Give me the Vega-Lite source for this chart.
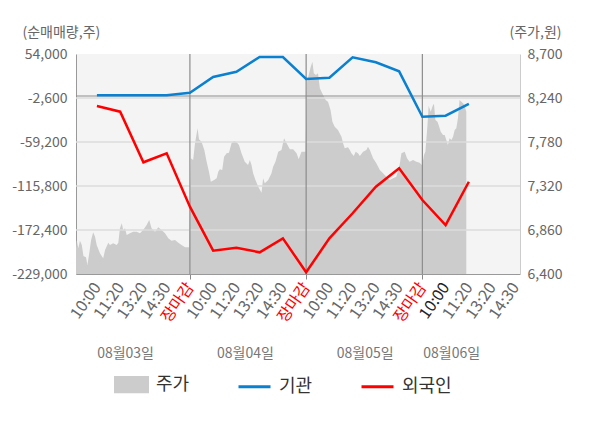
{
  "$schema": "https://vega.github.io/schema/vega-lite/v6.json",
  "width": 444,
  "height": 220,
  "autosize": {"type": "none"},
  "padding": {"left": 76, "top": 54, "right": 80, "bottom": 154},
  "background": "white",
  "config": {
    "font": "Noto Sans CJK KR",
    "view": {"fill": "#f4f4f4", "stroke": null}
  },
  "datasets": {
    "price": [
      {"t": 0.1, "p": 6670}, {"t": 0.13, "p": 6755}, {"t": 0.2, "p": 6670}, {"t": 0.27, "p": 6748},
      {"t": 0.35, "p": 6703}, {"t": 0.42, "p": 6588}, {"t": 0.53, "p": 6575}, {"t": 0.59, "p": 6494},
      {"t": 0.67, "p": 6616}, {"t": 0.75, "p": 6755}, {"t": 0.84, "p": 6836}, {"t": 0.92, "p": 6790},
      {"t": 0.99, "p": 6703}, {"t": 1.13, "p": 6616}, {"t": 1.27, "p": 6564}, {"t": 1.35, "p": 6651},
      {"t": 1.49, "p": 6727}, {"t": 1.56, "p": 6703}, {"t": 1.7, "p": 6721}, {"t": 1.85, "p": 6703},
      {"t": 1.92, "p": 6727}, {"t": 1.99, "p": 6878}, {"t": 2.07, "p": 6930}, {"t": 2.13, "p": 6860},
      {"t": 2.21, "p": 6878}, {"t": 2.28, "p": 6808}, {"t": 2.42, "p": 6825}, {"t": 2.56, "p": 6842},
      {"t": 2.71, "p": 6842}, {"t": 2.85, "p": 6825}, {"t": 2.99, "p": 6860}, {"t": 3.14, "p": 6912},
      {"t": 3.25, "p": 6965}, {"t": 3.35, "p": 6878}, {"t": 3.5, "p": 6842}, {"t": 3.64, "p": 6888},
      {"t": 3.78, "p": 6860}, {"t": 3.93, "p": 6825}, {"t": 4.07, "p": 6773}, {"t": 4.21, "p": 6748},
      {"t": 4.36, "p": 6755}, {"t": 4.5, "p": 6727}, {"t": 4.64, "p": 6703}, {"t": 4.79, "p": 6679},
      {"t": 4.97, "p": 6679},
      {"t": 5.04, "p": 7610}, {"t": 5.14, "p": 7592}, {"t": 5.22, "p": 7766}, {"t": 5.33, "p": 7923},
      {"t": 5.39, "p": 7808}, {"t": 5.5, "p": 7783}, {"t": 5.62, "p": 7696}, {"t": 5.72, "p": 7574},
      {"t": 5.82, "p": 7470}, {"t": 5.9, "p": 7365}, {"t": 6.04, "p": 7383}, {"t": 6.15, "p": 7400},
      {"t": 6.22, "p": 7470}, {"t": 6.29, "p": 7495}, {"t": 6.39, "p": 7487}, {"t": 6.47, "p": 7626},
      {"t": 6.58, "p": 7662}, {"t": 6.68, "p": 7668}, {"t": 6.79, "p": 7766}, {"t": 6.9, "p": 7790},
      {"t": 7.01, "p": 7777}, {"t": 7.11, "p": 7749}, {"t": 7.22, "p": 7662}, {"t": 7.36, "p": 7574},
      {"t": 7.5, "p": 7540}, {"t": 7.58, "p": 7592}, {"t": 7.65, "p": 7540}, {"t": 7.72, "p": 7453},
      {"t": 7.82, "p": 7383}, {"t": 7.94, "p": 7313}, {"t": 8.08, "p": 7250}, {"t": 8.15, "p": 7400},
      {"t": 8.22, "p": 7348}, {"t": 8.37, "p": 7383}, {"t": 8.51, "p": 7453}, {"t": 8.58, "p": 7522},
      {"t": 8.68, "p": 7574}, {"t": 8.8, "p": 7679}, {"t": 8.94, "p": 7696}, {"t": 9.05, "p": 7819},
      {"t": 9.16, "p": 7766}, {"t": 9.3, "p": 7704}, {"t": 9.44, "p": 7704}, {"t": 9.59, "p": 7662},
      {"t": 9.68, "p": 7599}, {"t": 9.8, "p": 7679}, {"t": 9.97, "p": 7679},
      {"t": 10.04, "p": 8410}, {"t": 10.13, "p": 8498}, {"t": 10.2, "p": 8567}, {"t": 10.27, "p": 8620},
      {"t": 10.33, "p": 8498}, {"t": 10.42, "p": 8480}, {"t": 10.51, "p": 8498}, {"t": 10.59, "p": 8341},
      {"t": 10.66, "p": 8306}, {"t": 10.73, "p": 8271}, {"t": 10.84, "p": 8219}, {"t": 10.94, "p": 8201},
      {"t": 11.05, "p": 8115}, {"t": 11.13, "p": 7992}, {"t": 11.23, "p": 7940}, {"t": 11.37, "p": 7905},
      {"t": 11.52, "p": 7835}, {"t": 11.59, "p": 7766}, {"t": 11.66, "p": 7714}, {"t": 11.8, "p": 7725},
      {"t": 11.88, "p": 7696}, {"t": 11.95, "p": 7662}, {"t": 12.05, "p": 7634}, {"t": 12.13, "p": 7679},
      {"t": 12.23, "p": 7662}, {"t": 12.31, "p": 7634}, {"t": 12.45, "p": 7679}, {"t": 12.59, "p": 7696},
      {"t": 12.66, "p": 7731}, {"t": 12.74, "p": 7696}, {"t": 12.88, "p": 7610}, {"t": 13.02, "p": 7557},
      {"t": 13.17, "p": 7487}, {"t": 13.31, "p": 7453}, {"t": 13.45, "p": 7417}, {"t": 13.6, "p": 7383},
      {"t": 13.74, "p": 7400}, {"t": 13.88, "p": 7417}, {"t": 14.02, "p": 7540}, {"t": 14.1, "p": 7662},
      {"t": 14.24, "p": 7679}, {"t": 14.34, "p": 7610}, {"t": 14.45, "p": 7574}, {"t": 14.6, "p": 7592},
      {"t": 14.74, "p": 7574}, {"t": 14.88, "p": 7564}, {"t": 14.98, "p": 7540},
      {"t": 15.01, "p": 7557}, {"t": 15.07, "p": 7644}, {"t": 15.13, "p": 7679}, {"t": 15.22, "p": 7958},
      {"t": 15.27, "p": 8156}, {"t": 15.36, "p": 8097}, {"t": 15.41, "p": 8132}, {"t": 15.46, "p": 8167},
      {"t": 15.5, "p": 8177}, {"t": 15.56, "p": 8010}, {"t": 15.65, "p": 7992}, {"t": 15.7, "p": 7958},
      {"t": 15.79, "p": 7888}, {"t": 15.89, "p": 7853}, {"t": 15.96, "p": 7853}, {"t": 16.03, "p": 7801},
      {"t": 16.1, "p": 7749}, {"t": 16.17, "p": 7819}, {"t": 16.25, "p": 7801}, {"t": 16.32, "p": 7835},
      {"t": 16.39, "p": 7905}, {"t": 16.46, "p": 7923}, {"t": 16.53, "p": 8028}, {"t": 16.6, "p": 8219},
      {"t": 16.68, "p": 8201}, {"t": 16.75, "p": 8185}, {"t": 16.81, "p": 8167}, {"t": 16.89, "p": 8097}
    ],
    "flow": [
      {"t": 1, "series": "기관", "v": 1000}, {"t": 2, "series": "기관", "v": 1000},
      {"t": 3, "series": "기관", "v": 1000}, {"t": 4, "series": "기관", "v": 1000},
      {"t": 5, "series": "기관", "v": 4200}, {"t": 6, "series": "기관", "v": 24400},
      {"t": 7, "series": "기관", "v": 31200}, {"t": 8, "series": "기관", "v": 50100},
      {"t": 9, "series": "기관", "v": 50100}, {"t": 10, "series": "기관", "v": 21800},
      {"t": 11, "series": "기관", "v": 23500}, {"t": 12, "series": "기관", "v": 49800},
      {"t": 13, "series": "기관", "v": 43300}, {"t": 14, "series": "기관", "v": 31700},
      {"t": 15, "series": "기관", "v": -26700}, {"t": 16, "series": "기관", "v": -25400},
      {"t": 17, "series": "기관", "v": -10300},
      {"t": 1, "series": "외국인", "v": -12900}, {"t": 2, "series": "외국인", "v": -20200},
      {"t": 3, "series": "외국인", "v": -85300}, {"t": 4, "series": "외국인", "v": -73700},
      {"t": 5, "series": "외국인", "v": -142400}, {"t": 6, "series": "외국인", "v": -199000},
      {"t": 7, "series": "외국인", "v": -195200}, {"t": 8, "series": "외국인", "v": -201100},
      {"t": 9, "series": "외국인", "v": -183100}, {"t": 10, "series": "외국인", "v": -226800},
      {"t": 11, "series": "외국인", "v": -183100}, {"t": 12, "series": "외국인", "v": -150900},
      {"t": 13, "series": "외국인", "v": -116700}, {"t": 14, "series": "외국인", "v": -93000},
      {"t": 15, "series": "외국인", "v": -133800}, {"t": 16, "series": "외국인", "v": -166000},
      {"t": 17, "series": "외국인", "v": -110300}
    ]
  },
  "layer": [
    {
      "data": {"name": "price"},
      "mark": {"type": "area", "opacity": 1},
      "encoding": {
        "x": {
          "field": "t", "type": "quantitative",
          "scale": {"domain": [0.1, 19.2], "nice": false, "zero": false},
          "axis": {
            "orient": "bottom",
            "values": [1, 2, 3, 4, 5, 6, 7, 8, 9, 10, 11, 12, 13, 14, 15, 16, 17, 18, 19],
            "labelExpr": "['장마감','10:00','11:20','13:20','14:30'][datum.value % 5]",
            "labelAngle": -55,
            "labelFontSize": 16,
            "labelColor": {"condition": [{"test": "datum.value % 5 === 0", "value": "#ff0000"}, {"test": "datum.value === 16", "value": "#222222"}], "value": "#666666"},
            "labelPadding": 5,
            "labelOverlap": false,
            "labelFlush": false,
            "grid": false,
            "tickColor": "#888888",
            "tickSize": 5,
            "tickOpacity": {"condition": {"test": "datum.value % 5 === 0", "value": 1}, "value": 0},
            "domainColor": "#999999",
            "title": null
          }
        },
        "y": {
          "field": "p", "type": "quantitative",
          "scale": {"domain": [6400, 8700], "nice": false, "zero": false},
          "axis": {
            "orient": "right",
            "values": [6400, 6860, 7320, 7780, 8240, 8700],
            "labelExpr": "format(datum.value, ',')",
            "labelFontSize": 14,
            "labelColor": "#666666",
            "labelPadding": 7,
            "ticks": false,
            "grid": false,
            "domainColor": "#cccccc",
            "title": "(주가,원)",
            "titleAngle": 0,
            "titleX": -11,
            "titleY": -22,
            "titleAlign": "left",
            "titleBaseline": "middle",
            "titleFontSize": 14,
            "titleFontWeight": "normal",
            "titleColor": "#666666"
          }
        },
        "y2": {"datum": 6400},
        "color": {
          "datum": "주가", "type": "nominal",
          "scale": {"domain": ["주가", "기관", "외국인"], "range": ["#cccccc", "#0a80d0", "#ff0000"]}
        }
      }
    },
    {
      "data": {"values": [{"v": -2600}, {"v": -59200}, {"v": -115800}, {"v": -172400}]},
      "mark": {"type": "rule", "color": "#dddddd", "strokeWidth": 1.5},
      "encoding": {
        "y": {"field": "v", "type": "quantitative", "scale": {"domain": [-229000, 54000], "nice": false, "zero": false}, "axis": null}
      }
    },
    {
      "data": {"values": [{"v": 0}]},
      "mark": {"type": "rule", "color": "#8c8c8c", "strokeWidth": 1.2},
      "encoding": {
        "y": {"field": "v", "type": "quantitative", "scale": {"domain": [-229000, 54000], "nice": false, "zero": false}, "axis": null}
      }
    },
    {
      "data": {"values": [{"t": 5}, {"t": 10}, {"t": 15}]},
      "mark": {"type": "rule", "color": "#8c8c8c", "strokeWidth": 1.2},
      "encoding": {
        "x": {"field": "t", "type": "quantitative", "scale": {"domain": [0.1, 19.2], "nice": false, "zero": false}, "axis": null}
      }
    },
    {
      "data": {"name": "flow"},
      "mark": {"type": "line", "strokeWidth": 2.5},
      "encoding": {
        "x": {"field": "t", "type": "quantitative", "scale": {"domain": [0.1, 19.2], "nice": false, "zero": false}, "axis": null},
        "y": {
          "field": "v", "type": "quantitative",
          "scale": {"domain": [-229000, 54000], "nice": false, "zero": false},
          "axis": {
            "orient": "left",
            "values": [54000, -2600, -59200, -115800, -172400, -229000],
            "labelExpr": "replace(format(datum.value, ','), '−', '-')",
            "labelFontSize": 14,
            "labelColor": "#666666",
            "labelPadding": 9,
            "ticks": false,
            "grid": false,
            "domainColor": "#999999",
            "title": "(순매매량,주)",
            "titleAngle": 0,
            "titleX": -54,
            "titleY": -22,
            "titleAlign": "left",
            "titleBaseline": "middle",
            "titleFontSize": 14,
            "titleFontWeight": "normal",
            "titleColor": "#666666"
          }
        },
        "color": {
          "field": "series", "type": "nominal",
          "scale": {"domain": ["주가", "기관", "외국인"], "range": ["#cccccc", "#0a80d0", "#ff0000"]},
          "legend": {
            "orient": "none",
            "legendX": 38,
            "legendY": 313,
            "direction": "horizontal",
            "title": null,
            "padding": 0,
            "labelFontSize": 18,
            "labelColor": "#333333",
            "labelOffset": 7,
            "columnPadding": 42,
            "symbolSize": 1024,
            "encoding": {
              "symbols": {
                "shape": {"value": {"expr": "datum.value === '주가' ? 'M-1,-0.45H1V0.45H-1Z' : 'stroke'"}},
                "fill": {"value": {"expr": "datum.value === '주가' ? '#cccccc' : 'transparent'"}},
                "stroke": {"value": {"expr": "datum.value === '주가' ? 'transparent' : scale('color', datum.value)"}},
                "strokeWidth": {"value": 3},
                "opacity": {"value": 1}
              }
            }
          }
        }
      }
    },
    {
      "data": {"values": [{"t": 2.21}, {"t": 7.37}, {"t": 12.52}, {"t": 16.24}]},
      "mark": {"type": "point", "opacity": 0},
      "encoding": {
        "x": {
          "field": "t", "type": "quantitative",
          "scale": {"domain": [0.1, 19.2], "nice": false, "zero": false},
          "axis": {
            "orient": "bottom",
            "offset": 70,
            "values": [2.21, 7.37, 12.52, 16.24],
            "labelExpr": "datum.value < 5 ? '08월03일' : datum.value < 10 ? '08월04일' : datum.value < 15 ? '08월05일' : '08월06일'",
            "labelAngle": 0,
            "labelFontSize": 14,
            "labelColor": "#777777",
            "labelPadding": 2,
            "labelOverlap": false,
            "labelFlush": false,
            "domain": false,
            "ticks": false,
            "grid": false,
            "title": null
          }
        }
      }
    }
  ],
  "resolve": {
    "scale": {"y": "independent"},
    "axis": {"x": "independent", "y": "independent"}
  }
}
